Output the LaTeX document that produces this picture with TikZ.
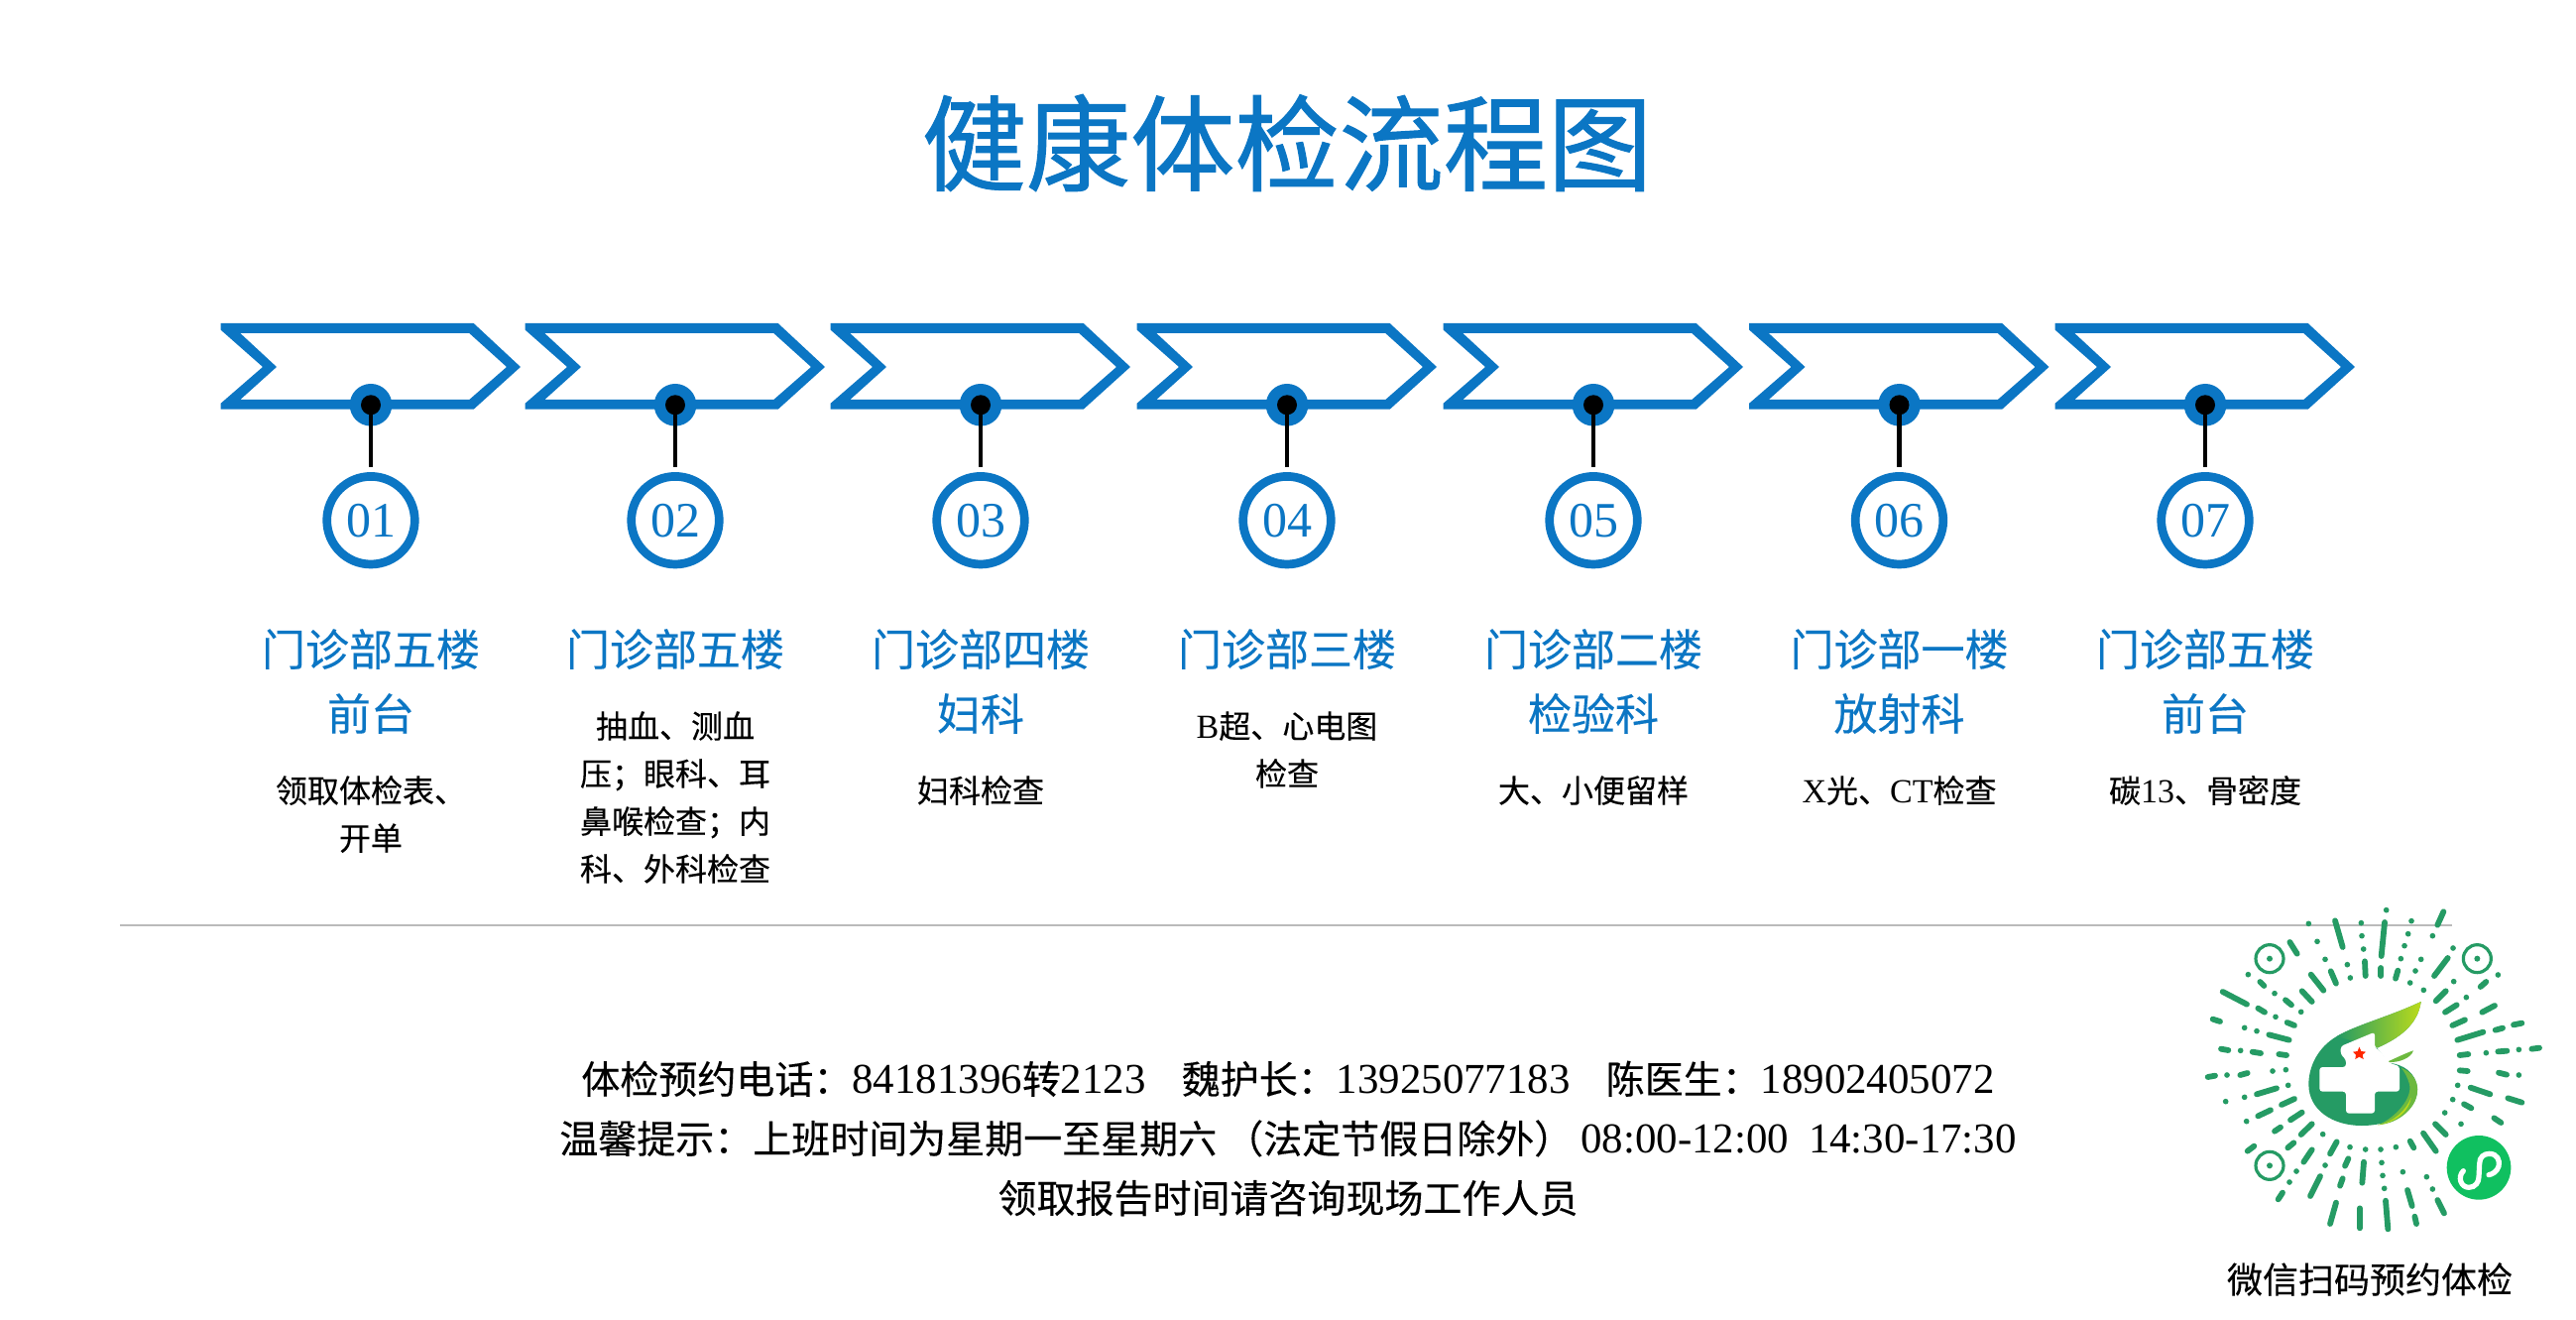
\documentclass[tikz,border=0pt]{standalone}
\usepackage{fontspec}
\setmainfont{Liberation Serif}
\newfontfamily\cjk[FakeBold=0.25]{Noto Sans CJK SC}
\newfontfamily\cjktitle[FakeBold=1]{Noto Sans CJK SC}
\definecolor{bl}{HTML}{0B76C4}
\definecolor{qr}{HTML}{259B64}
\definecolor{minigreen}{HTML}{10C060}
\definecolor{leafend}{HTML}{BBDB1B}
\definecolor{bowl}{HTML}{6DB93F}
\tikzset{
  titletext/.style={inner sep=0pt,text=bl,font=\fontsize{52.6}{60}\selectfont\cjktitle},
  ball/.style={circle,fill=bl,inner sep=0pt,minimum size=21.3pt},
  pin/.style={circle,fill=black,inner sep=0pt,minimum size=10pt},
  stem/.style={draw=black,line width=2.1pt,shorten >=4.9pt},
  numring/.style={circle,draw=bl,line width=4.35pt,fill=white,inner sep=0pt,outer sep=0pt,minimum size=44.3pt,text=bl,font=\fontsize{25}{30}\selectfont},
  headtext/.style={inner sep=0pt,align=center,text=bl,font=\fontsize{22}{32.5}\selectfont\cjk},
  bodytext/.style={inner sep=0pt,align=center,font=\fontsize{16}{24}\selectfont},
  infotext/.style={inner sep=0pt,align=center,font=\fontsize{19.5}{30}\selectfont},
  qrstroke/.style={draw=qr,line width=2.9pt,line cap=round},
}
\newcommand{\zh}[1]{{\cjk #1}}
\newcommand{\bignum}[1]{{\fontsize{21.45}{30}\selectfont #1}}
\newcommand{\midnum}[1]{{\fontsize{17}{24}\selectfont #1}}
\begin{document}
\begin{tikzpicture}[x=0.5pt,y=-0.5pt]
\useasboundingbox (0,0) rectangle (2598,1331);
\fill[white] (0,0) rectangle (2598,1331);
\node[titletext] (title) at (1298,144) {健康体检流程图};
\foreach \n/\cx/\num in {1/374/01,2/681/02,3/989/03,4/1298/04,5/1607/05,6/1915.5/06,7/2224/07}
{
  \begin{scope}[shift={(\cx,0)}]
    \fill[bl,even odd rule]
      (-151.3,326) -- (103.7,326) -- (151,370) -- (103.7,412.7) -- (-151.3,412.7) -- (-151.3,406.7) -- (-109,370) -- (-151.3,332.7) -- cycle
      (-131.7,336) -- (99.3,336) -- (137,370) -- (99.3,403) -- (-131.7,403) -- (-95,370) -- cycle;
  \end{scope}
  \node[ball] (b\n) at (\cx,408.3) {};
  \node[numring] (r\n) at (\cx,524.7) {\num};
  \draw[stem] (b\n.center) -- (r\n.north);
  \node[pin] (p\n) at (\cx,408.3) {};
}
\node[headtext] (h1) at (374,687) {门诊部五楼\\前台};
\node[headtext] (h2) at (681,654.5) {门诊部五楼};
\node[headtext] (h3) at (989,687) {门诊部四楼\\妇科};
\node[headtext] (h4) at (1298,654.5) {门诊部三楼};
\node[headtext] (h5) at (1607,687) {门诊部二楼\\检验科};
\node[headtext] (h6) at (1915.5,687) {门诊部一楼\\放射科};
\node[headtext] (h7) at (2224,687) {门诊部五楼\\前台};
\node[bodytext] (t1) at (374,821) {\zh{领取体检表、}\\\zh{开单}};
\node[bodytext] (t2) at (681,804) {\zh{抽血、测血}\\\zh{压；眼科、耳}\\\zh{鼻喉检查；内}\\\zh{科、外科检查}};
\node[bodytext] (t3) at (989,797) {\zh{妇科检查}};
\node[bodytext] (t4) at (1298,756) {\midnum{B}\zh{超、心电图}\\\zh{检查}};
\node[bodytext] (t5) at (1607,797) {\zh{大、小便留样}};
\node[bodytext] (t6) at (1915.5,797) {\midnum{X}\zh{光、}\midnum{CT}\zh{检查}};
\node[bodytext] (t7) at (2224,797) {\zh{碳}\midnum{13}\zh{、骨密度}};
\draw[black!27,line width=1pt] (121,933) -- (2473,933);
\node[infotext] (info) at (1299,1148) {\zh{体检预约电话：}\bignum{84181396}\zh{转}\bignum{2123}\hspace{18pt}\zh{魏护长：}\bignum{13925077183}\hspace{18pt}\zh{陈医生：}\bignum{18902405072}\\
\zh{温馨提示：上班时间为星期一至星期六}\hspace{4pt}\zh{（法定节假日除外）}\hspace{4pt}\bignum{08:00-12:00}\hspace{10pt}\bignum{14:30-17:30}\\
\zh{领取报告时间请咨询现场工作人员}};
\begin{scope}[shift={(2200,890)},x=0.16667pt,y=-0.16667pt]
  \foreach \xa/\ya/\xb/\yb in {465/115/488/195,615/120/605/222,793/88/775/128,328/180/350/215,806/228/765/282,392/278/430/326,452/268/468/305,555/238/557/282,604/258/604/282,655/266/648/290,238/300/250/312,922/300/905/315,365/328/395/360,770/358/800/328,315/355/333/370,125/330/198/368,232/380/252/392,798/392/833/370,910/392/948/372,820/432/858/415,95/413/117/420,320/423/342/432,950/446/972/440,1005/430/1030/425,265/460/326/476,835/476/913/452,120/503/142/507,215/512/240/516,295/519/318/522,842/522/868/519,958/511/985/509,1060/503/1083/500,80/588/102/584,178/582/200/576,842/568/866/570,960/575/984/581,228/640/288/622,875/620/934/640,988/652/1030/665,303/672/342/654,232/706/270/688,855/670/877/682,330/718/365/695,946/712/967/726,282/752/300/740,362/762/395/730,768/730/800/762,200/812/220/797,322/802/340/787,450/820/470/784,692/782/703/802,732/758/770/812,370/845/395/808,495/857/505/835,552/845/547/908,390/948/420/888,480/917/488/895,293/958/306/938,684/930/698/978,775/960/795/1000,450/1032/468/968,540/985/540/1045,618/962/625/1048,706/1010/711/1032}
    {\draw[qrstroke] (\xa,\ya) -- (\xb,\yb);}
  \foreach \xa/\ya in {620/83,385/124,544/122,696/116,546/161,686/155,760/161,411/178,675/191,551/201,822/198,435/232,664/230,725/232,502/248,708/267,202/278,958/279,511/288,692/303,824/299,282/335,733/325,862/347,362/391,285/406,191/439,228/449,179/508,922/515,1021/505,276/570,316/566,138/582,1021/582,323/613,836/613,191/649,134/662,821/656,197/722,797/696,846/730,428/761,510/800,557/807,603/807,649/800,606/847,435/855,348/873,609/886,670/875,327/906,742/890,614/925,760/927}
    {\fill[qr] (\xa,\ya) circle[radius=8.5];}
  \foreach \xa/\ya in {267/230,895/230,267/856}
    {\draw[qr,line width=1.6pt] (\xa,\ya) circle[radius=42];
     \fill[qr] (\xa,\ya) circle[radius=9];}
  % logo body
  \fill[qr] (725,360) .. controls (630,405) and (530,430) .. (470,465) .. controls (410,500) and (385,560) .. (385,610) .. controls (385,690) and (460,735) .. (545,735) .. controls (640,735) and (715,690) .. (714,625) .. controls (712,575) and (670,548) .. (625,545) -- (592,500) .. controls (660,470) and (715,430) .. (725,360) -- cycle;
  \path[left color=qr,right color=leafend] (725,360) .. controls (630,405) and (530,430) .. (470,465) -- (592,500) .. controls (660,470) and (715,430) .. (725,360) -- cycle;
  \fill[bowl] (665,560) .. controls (700,575) and (716,600) .. (714,630) .. controls (712,680) and (660,728) .. (595,733) .. controls (650,710) and (700,650) .. (690,610) .. controls (685,590) and (675,572) .. (665,560) -- cycle;
  \fill[leafend] (595,733) .. controls (640,725) and (680,690) .. (695,650) .. controls (690,690) and (650,725) .. (595,733) -- cycle;
  \fill[bowl] (625,541) .. controls (650,530) and (680,515) .. (702,508) .. controls (695,530) and (660,545) .. (625,543) -- cycle;
  % white cross
  \fill[white,rounded corners=1.5pt] (418,632) -- (418,558) -- (498,558) -- (498,535) -- (482,520) -- (482,495) -- (585,452) -- (585,500) -- (592,500) -- (630,546) -- (660,555) -- (660,632) -- (585,632) -- (585,698) -- (498,698) -- (498,632) -- cycle;
  \fill[red!70!orange] (538,497) -- (544,510) -- (558,512) -- (548,521) -- (551,534) -- (538,527) -- (526,534) -- (528,521) -- (519,512) -- (533,510) -- cycle;
  % mini-program mark
  \fill[minigreen] (900,862) circle[radius=97];
  \draw[white,line width=2.6pt,line cap=round] (853,872) .. controls (835,890) and (845,922) .. (870,922) .. controls (890,922) and (900,905) .. (900,890) -- (902,850) .. controls (902,830) and (915,820) .. (932,820) .. controls (955,820) and (965,840) .. (960,858) .. controls (955,875) and (940,882) .. (930,884);
\end{scope}
\node[inner sep=0pt,font=\fontsize{18}{22}\selectfont\cjk] (qrcap) at (2390,1290) {微信扫码预约体检};
\end{tikzpicture}
\end{document}
